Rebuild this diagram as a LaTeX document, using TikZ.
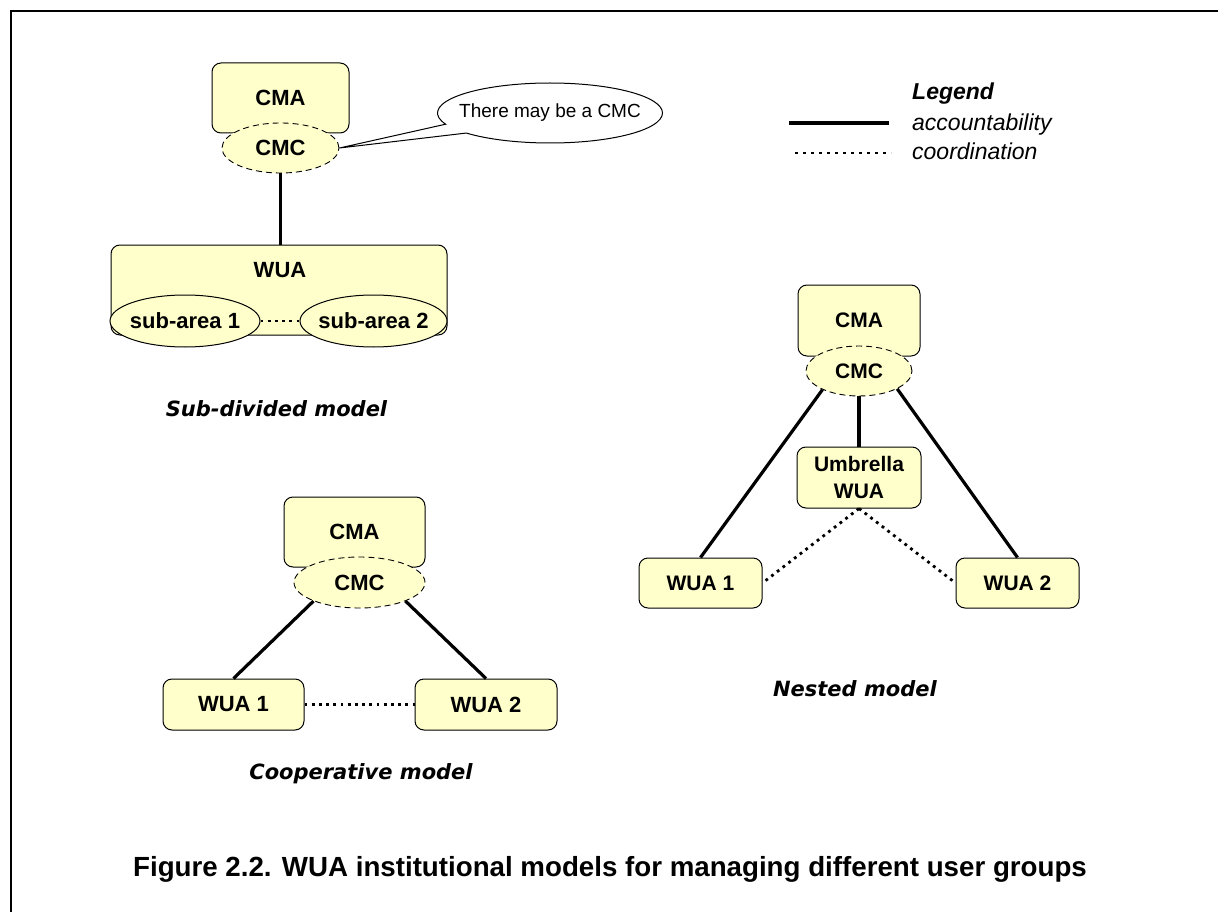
\documentclass[tikz,border=0pt]{standalone}
\usepackage{fontspec}
\setmainfont{Liberation Sans}
\newfontfamily\modelfont{DejaVu Sans}
\usetikzlibrary{shapes.geometric,shapes.callouts}
\definecolor{wuafill}{HTML}{FFFFCC}
\begin{document}
\begin{tikzpicture}[x=1pt,y=-1pt,
  box/.style={draw, fill=wuafill, rounded corners=9pt, line width=1pt, inner sep=0pt},
  cmcell/.style={ellipse, draw, fill=wuafill, line width=0.9pt, dash pattern=on 6pt off 4pt, inner sep=0pt, minimum height=50pt},
  subell/.style={ellipse, draw, fill=wuafill, line width=1pt, inner sep=0pt, minimum height=52pt},
  lbl/.style={font=\fontsize{22}{26}\selectfont\bfseries, inner sep=0pt},
  acc/.style={line width=3.2pt},
  coordline/.style={line width=2.8pt, dash pattern=on 2.8pt off 4.4pt},
  modellbl/.style={font=\modelfont\fontsize{21}{25}\selectfont\bfseries\itshape, inner sep=0pt, anchor=base},
  legtxt/.style={font=\fontsize{23}{27}\selectfont\itshape, inner sep=0pt, anchor=west}
]
\useasboundingbox (0,0) rectangle (1218,912);

% page frame (left and top edges)
\draw[line width=2pt] (10.5,912) -- (10.5,11.5) -- (1218,11.5);

% ---------- Sub-divided model ----------
\node[box, lbl, minimum width=137pt, minimum height=70pt] (cma1) at (280.5,98) {CMA};
\node[cmcell, lbl, minimum width=117pt] (cmc1) at (280.5,148) {CMC};
\node[box, minimum width=336pt, minimum height=90pt] (wua1) at (279,290) {};
\node[lbl] (wua1txt) at (280,270) {WUA};
\node[subell, minimum width=150pt] (sa1) at (185,321) {};
\node[lbl] (sa1txt) at (185,321) {sub-area 1};
\node[subell, minimum width=147pt] (sa2) at (373.5,321) {};
\node[lbl] (sa2txt) at (373.5,321) {sub-area 2};
\draw[acc] (cmc1.south) -- (cmc1.south |- wua1.north);
\draw[coordline] (sa1.east) -- (sa2.west);

% callout
\node[ellipse callout, draw, fill=white, line width=1pt, minimum width=225pt, minimum height=60pt,
      inner sep=0pt, callout absolute pointer={(cmc1.east)}, callout pointer arc=20] (note) at (550,113) {};
\node[font=\fontsize{19}{23}\selectfont, inner sep=0pt] (notetxt) at (note.center) {There may be a CMC};

\node[modellbl] (lblsub) at (276.5,416) {Sub-divided model};

% ---------- Legend ----------
\node[font=\fontsize{23}{27}\selectfont\bfseries\itshape, inner sep=0pt, anchor=west] (legtitle) at (912,94) {Legend};
\coordinate (accA) at (789,123);
\coordinate (accB) at (889,123);
\draw[line width=4.6pt] (accA) -- (accB);
\node[legtxt] (acctxt) at (912,125) {accountability};
\coordinate (corA) at (795,153);
\coordinate (corB) at (891,153);
\draw[line width=2.5pt, dash pattern=on 2.5pt off 5.5pt] (corA) -- (corB);
\node[legtxt] (cortxt) at (912,151) {coordination};

% ---------- Nested model ----------
\node[box, lbl, font=\fontsize{21}{25}\selectfont\bfseries, minimum width=122pt, minimum height=71pt] (cma3) at (859,320.5) {CMA};
\node[cmcell, lbl, font=\fontsize{21}{25}\selectfont\bfseries, minimum width=106pt] (cmc3) at (859,371) {CMC};
\node[box, lbl, font=\fontsize{21}{27}\selectfont\bfseries, align=center, minimum width=124pt, minimum height=61pt] (umb) at (859,477.5) {Umbrella\\WUA};
\node[box, lbl, font=\fontsize{21}{25}\selectfont\bfseries, minimum width=123pt, minimum height=50pt] (wua3a) at (700.5,583) {WUA 1};
\node[box, lbl, font=\fontsize{21}{25}\selectfont\bfseries, minimum width=123pt, minimum height=50pt] (wua3b) at (1017.5,583) {WUA 2};
\draw[acc] (cmc3.south) -- (umb.north);
\draw[acc] (cmc3.207) -- (wua3a.north);
\draw[acc] (cmc3.335) -- (wua3b.north);
\draw[coordline] (umb.south) -- (wua3a.east);
\draw[coordline] (umb.south) -- (wua3b.west);
\node[modellbl] (lblnest) at (855,696) {Nested model};

% ---------- Cooperative model ----------
\node[box, lbl, minimum width=141pt, minimum height=70pt] (cma2) at (354.5,532) {CMA};
\node[cmcell, lbl, minimum width=131pt, minimum height=51pt] (cmc2) at (359.5,582.5) {CMC};
\node[box, lbl, minimum width=141pt, minimum height=51pt] (wua2a) at (233.5,704.5) {WUA 1};
\node[box, lbl, minimum width=142pt, minimum height=51pt] (wua2b) at (486,704.5) {WUA 2};
\draw[acc] (cmc2.202) -- (wua2a.north);
\draw[acc] (cmc2.338) -- (wua2b.north);
\draw[coordline] (wua2a.east) -- (wua2b.west);
\node[modellbl] (lblcoop) at (361,779) {Cooperative model};

% ---------- Caption ----------
\node[font=\fontsize{27.7}{32}\selectfont\bfseries, inner sep=0pt, anchor=base] (caption) at (610,876)
  {Figure 2.2. WUA institutional models for managing different user groups};
\end{tikzpicture}
\end{document}
